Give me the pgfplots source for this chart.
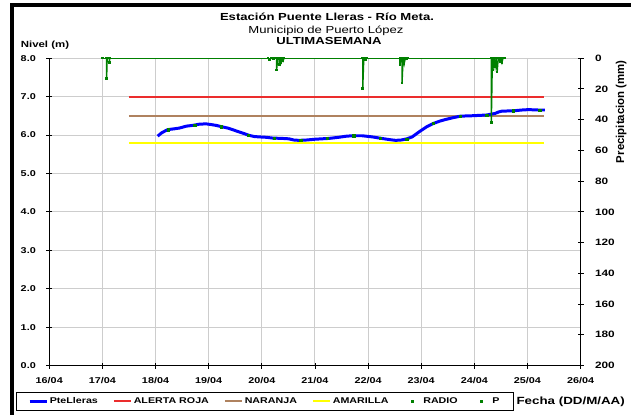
\documentclass[border=0pt]{standalone}
\usepackage{fontspec}
\setmainfont{Liberation Sans}
\usepackage{graphicx}
\usepackage{pgfplots}
\pgfplotsset{compat=1.18}
\definecolor{nivel}{RGB}{0,0,255}
\definecolor{roja}{RGB}{235,45,45}
\definecolor{naranja}{RGB}{175,130,95}
\definecolor{amarilla}{RGB}{255,255,0}
\definecolor{precip}{RGB}{0,128,0}
\definecolor{gridc}{RGB}{205,205,205}
\newcommand{\sx}[1]{\scalebox{1.28}[1]{#1}}
\pgfplotsset{
  redlegend/.style={legend image code/.code={\draw[draw=roja, line width=2bp] (0bp,0bp) -- (17bp,0bp);}},
  brownlegend/.style={legend image code/.code={\draw[draw=naranja, line width=2bp] (0bp,0bp) -- (17bp,0bp);}},
  yellowlegend/.style={legend image code/.code={\draw[draw=amarilla, line width=2bp] (0bp,0bp) -- (17bp,0bp);}},
  bluelegend/.style={legend image code/.code={\draw[draw=nivel, line width=2.6bp] (0bp,0bp) -- (17bp,0bp);}},
  dotlegend/.style={legend image code/.code={\path (0bp,-2bp) (17bp,2bp); \fill[precip] (7.3bp,-1.2bp) rectangle (9.7bp,1.2bp);}},
}

\pgfplotstableread{
x y
18.04 5.97
18.12 6.06
18.23 6.14
18.35 6.16
18.45 6.18
18.58 6.23
18.70 6.25
18.82 6.28
18.95 6.29
19.05 6.27
19.14 6.25
19.26 6.21
19.36 6.18
19.45 6.14
19.55 6.09
19.64 6.05
19.76 5.99
19.86 5.96
19.95 5.95
20.08 5.94
20.20 5.92
20.39 5.91
20.51 5.90
20.60 5.87
20.70 5.86
20.85 5.87
21.01 5.89
21.13 5.90
21.26 5.91
21.45 5.94
21.60 5.97
21.73 5.98
21.89 5.98
22.08 5.95
22.26 5.91
22.40 5.88
22.52 5.86
22.63 5.87
22.73 5.90
22.83 5.95
22.90 6.02
22.98 6.10
23.10 6.21
23.23 6.30
23.35 6.36
23.45 6.40
23.60 6.45
23.74 6.49
23.95 6.50
24.10 6.51
24.23 6.52
24.39 6.56
24.46 6.60
24.52 6.62
24.74 6.63
24.90 6.65
25.02 6.66
25.20 6.65
25.33 6.65
}\nivtable

\pgfplotstableread{
x y
18.24 6.14
18.74 6.25
19.24 6.22
19.74 6.00
20.23 5.92
20.73 5.86
21.23 5.91
21.73 5.98
22.23 5.92
22.73 5.89
23.23 6.30
23.73 6.49
24.23 6.52
24.73 6.63
25.23 6.65
}\radiotable

\pgfplotstableread{
x y
17.00 0
17.08 0
17.08 13.4
17.09 0
17.13 0
17.13 2.8
17.14 0
20.12 0
20.14 0.8
20.18 0
20.22 0.6
20.24 0
20.28 0
20.28 7.6
20.30 0
20.33 0
20.33 4.3
20.35 0
20.36 2.8
20.38 0
20.40 1.8
20.42 0
21.90 0
21.90 19.9
21.92 0
21.95 0.8
21.97 0
22.60 0
22.60 4.3
22.62 0
22.64 0
22.64 16.2
22.66 0
22.68 3.7
22.70 0
22.72 0.7
22.74 0
24.32 0
24.32 42.0
24.34 0
24.35 7.6
24.37 0
24.39 5.4
24.41 0
24.43 9.1
24.45 0
24.48 2.2
24.50 0
24.52 2.8
24.54 0
24.57 0
}\ptable

\begin{document}
\begin{tikzpicture}[x=1bp,y=1bp]
\path (0,0) rectangle (633,416);
\draw[line width=4bp] (12,0) -- (12,411) -- (633,411);

\begin{axis}[
  at={(49.4bp,49.3bp)}, anchor=south west,
  width=533bp, height=308.4bp, scale only axis,
  xmin=16, xmax=26, ymin=0, ymax=8,
  axis x line*=bottom, axis y line*=left,
  axis line style={black, -, line width=0.8bp},
  xtick={16,...,26}, ytick={0,...,8},
  xticklabels={\sx{16/04},\sx{17/04},\sx{18/04},\sx{19/04},\sx{20/04},\sx{21/04},\sx{22/04},\sx{23/04},\sx{24/04},\sx{25/04},\sx{26/04}},
  yticklabels={\sx{0.0},\sx{1.0},\sx{2.0},\sx{3.0},\sx{4.0},\sx{5.0},\sx{6.0},\sx{7.0},\sx{8.0}},
  grid=major, major grid style={gridc, line width=0.9bp},
  tick align=center, major tick length=6bp,
  tick style={black, line width=0.8bp},
  every tick label/.append style={font=\fontsize{8.5}{10}\selectfont\bfseries},
  yticklabel style={xshift=-7bp},
  xticklabel style={yshift=-5bp},
  legend columns=6,
  legend style={at={(-0.0627,-0.0853)}, anchor=north west, draw=black, line width=0.8bp,
    font=\fontsize{8.4}{10}\selectfont\bfseries, inner xsep=12bp, inner ysep=3.5bp,
    /tikz/every even column/.append style={column sep=13bp}},
]
\addlegendimage{bluelegend}
\addlegendentry{\sx{PteLleras}}
\addlegendimage{redlegend}
\addlegendentry{\sx{ALERTA ROJA}}
\addlegendimage{brownlegend}
\addlegendentry{\sx{NARANJA}}
\addlegendimage{yellowlegend}
\addlegendentry{\sx{AMARILLA}}
\addlegendimage{dotlegend}
\addlegendentry{\sx{RADIO}}
\addlegendimage{dotlegend}
\addlegendentry{\sx{P}}

\addplot[roja, line width=2bp, forget plot] coordinates {(17.5,7.0) (25.32,7.0)};
\addplot[naranja, line width=2bp, forget plot] coordinates {(17.5,6.5) (25.32,6.5)};
\addplot[amarilla, line width=2bp, forget plot] coordinates {(17.5,5.8) (25.32,5.8)};
\addplot[nivel, line width=3bp, line join=round, forget plot] table[x=x,y=y] {\nivtable};
\addplot[precip, only marks, mark=square*, mark size=1.2bp, forget plot] table[x=x,y=y] {\radiotable};
\end{axis}

\begin{axis}[
  at={(49.4bp,49.3bp)}, anchor=south west,
  width=533bp, height=308.4bp, scale only axis,
  xmin=16, xmax=26, ymin=0, ymax=200, y dir=reverse,
  axis x line=none, axis y line*=right,
  axis line style={black, -, line width=0.8bp},
  ytick={0,20,...,200},
  yticklabels={\sx{0},\sx{20},\sx{40},\sx{60},\sx{80},\sx{100},\sx{120},\sx{140},\sx{160},\sx{180},\sx{200}},
  tick align=center, major tick length=6bp,
  tick style={black, line width=0.8bp},
  yticklabel style={font=\fontsize{9.3}{11}\selectfont\bfseries, anchor=west, xshift=8bp},
]
\addplot[precip, line width=1.4bp, mark=square*, mark size=0.6bp] table[x=x,y=y] {\ptable};
\end{axis}

\node[anchor=base, font=\fontsize{10.3}{12}\selectfont\bfseries] at (328,395) {\sx{Estación Puente Lleras - Río Meta.}};
\node[anchor=base, font=\fontsize{10.3}{12}\selectfont] at (327,382) {\sx{Municipio de Puerto López}};
\node[anchor=base, font=\fontsize{10.3}{12}\selectfont\bfseries] at (330,371) {\sx{ULTIMASEMANA}};
\node[anchor=base west, inner sep=0pt, font=\fontsize{9}{11}\selectfont\bfseries] at (20.7,368) {\sx{Nivel (m)}};
\node[rotate=90, inner sep=0pt, font=\fontsize{11.5}{13}\selectfont\bfseries] at (623,304) {Precipitacion (mm)};
\node[anchor=base west, inner sep=0pt, font=\fontsize{10.5}{12}\selectfont\bfseries] at (518,10) {\sx{Fecha (DD/M/AA)}};
\end{tikzpicture}
\end{document}
